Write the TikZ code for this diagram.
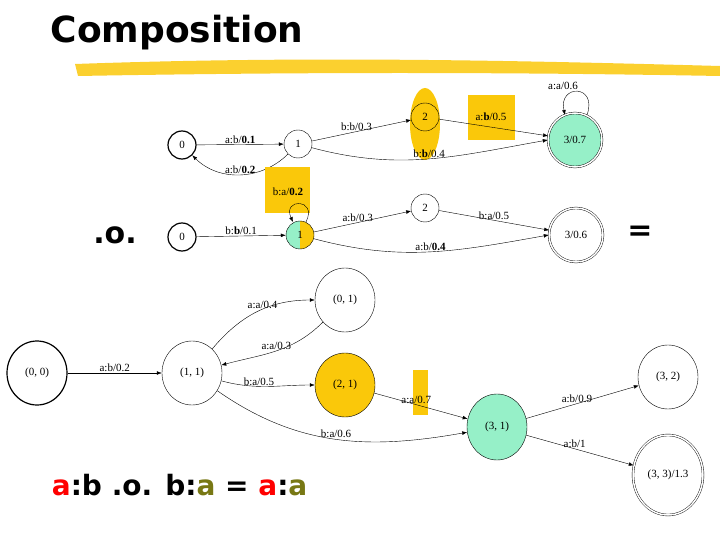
\documentclass[tikz,border=0pt]{standalone}
\usepackage{fontspec}
\setmainfont{Liberation Serif}
\setsansfont{DejaVu Sans}
\usetikzlibrary{arrows.meta,shapes.geometric}
\definecolor{gold}{RGB}{250,200,10}
\definecolor{mint}{RGB}{150,240,200}
\definecolor{olive}{RGB}{120,120,20}
\begin{document}
\begin{tikzpicture}[x=1pt,y=-1pt,
 st/.style={circle,draw,thin,minimum size=28pt,inner sep=0pt,font=\fontsize{11}{12}\selectfont},
 init/.style={st,very thick},
 fin/.style={st,double,double distance=1.5pt,minimum size=54pt},
 el/.style={ellipse,draw,thin,minimum width=60pt,minimum height=64pt,inner sep=0pt,font=\fontsize{11}{12}\selectfont},
 e/.style={-{Latex[length=5pt]},thin},
 lb/.style={font=\fontsize{11}{12}\selectfont,inner sep=1pt}]
\useasboundingbox (0,0) rectangle (720,540);
\node[font=\sffamily\bfseries,scale=3.6,anchor=west] (title) at (38,33) {Composition};
\fill[gold!85] (75,64) .. controls (300,56) and (500,60) .. (720,66) -- (720,76) .. controls (500,72) and (300,72) .. (78,76) -- cycle;
% FST 1
\fill[gold] (425,124) ellipse (15 and 36);
\fill[gold] (468,95) rectangle (515,140);
\node[init] (a0) at (182,145) {0};
\node[st] (a1) at (298,144) {1};
\node[st] (a2) at (425,117) {2};
\node[fin,fill=mint] (a3) at (575,140) {3/0.7};
\draw[e] (a0) -- node[lb,above] {a:b/\textbf{0.1}} (a1);
\draw[e] (a1) to[out=-135,in=-45] node[lb,above,pos=0.5] {a:b/\textbf{0.2}} (a0);
\draw[e] (a1) -- node[lb,above,pos=0.45] {b:b/0.3} (a2);
\draw[e] (a1) to[out=-15,in=190] node[lb,above,pos=0.5] {b:\textbf{b}/0.4} (a3.west);
\draw[e] (a2) -- (a3);
\node[lb] (l25) at (491,117) {a:\textbf{b}/0.5};
\draw[e] (587,115) .. controls (598,84) and (558,84) .. (565,115);
\node[lb] (l33) at (563,86) {a:a/0.6};
% FST 2
\fill[gold] (265,167) rectangle (310,213);
\fill[mint] (300,221) arc[start angle=-90,end angle=-270,radius=14] -- cycle;
\fill[gold] (300,221) arc[start angle=-90,end angle=90,radius=14] -- cycle;
\node[init] (b0) at (182,237) {0};
\node[st] (b1t) at (300,235) {1};
\node[st] (b2) at (425,208) {2};
\node[fin] (b3) at (576,235) {3/0.6};
\draw[e] (b0) -- node[lb,above] {b:\textbf{b}/0.1} (b1t);
\draw[e] (306,222) .. controls (318,198) and (282,198) .. (293,222);
\node[lb] (l11) at (288,192) {b:a/\textbf{0.2}};
\draw[e] (b1t) -- node[lb,above,pos=0.45] {a:b/0.3} (b2);
\draw[e] (b2) -- node[lb,above,pos=0.5] {b:a/0.5} (b3);
\draw[e] (b1t) to[out=-15,in=190] node[lb,above,pos=0.5] {a:b/\textbf{0.4}} (b3.west);
\node[font=\sffamily\bfseries,scale=3] (oo) at (115,235) {.o.};
\node[font=\sffamily\bfseries,scale=3] (eq) at (640,233) {=};
% result
\fill[gold] (413,370) rectangle (428,415);
\node[el,very thick] (c00) at (37,373) {(0, 0)};
\node[el] (c11) at (192,373) {(1, 1)};
\node[el] (c01) at (345,300) {(0, 1)};
\node[el,fill=gold] (c21) at (345,385) {(2, 1)};
\node[el,fill=mint,minimum height=66pt] (c31) at (497,427) {(3, 1)};
\node[el] (c32) at (668,377) {(3, 2)};
\node[el,double,double distance=1.5pt,minimum width=70pt,minimum height=80pt] (c33) at (668,475) {(3, 3)/1.3};
\draw[e] (c00) -- node[lb,above] {a:b/0.2} (c11);
\draw[e] (c11) to[out=50,in=180] node[lb,above,pos=0.55] {a:a/0.4} (c01);
\draw[e] (c01) to[out=-135,in=15] node[lb,above,pos=0.5] {a:a/0.3} (c11);
\draw[e] (c11) to[out=-15,in=180] node[lb,above,pos=0.4] {b:a/0.5} (c21);
\draw[e] (c21) -- node[lb,above,pos=0.45] {a:a/0.7} (c31);
\draw[e] (c11) to[out=-35,in=190] node[lb,above,pos=0.5] {b:a/0.6} (c31);
\draw[e] (c31) -- node[lb,above,pos=0.45] {a:b/0.9} (c32);
\draw[e] (c31) -- node[lb,above,pos=0.45] {a:b/1} (c33);
\node[font=\sffamily\bfseries,scale=2.8,anchor=west] (eqn) at (42,485) {\textcolor{red}{a}:b .o. b:\textcolor{olive}{a} = \textcolor{red}{a}:\textcolor{olive}{a}};
\end{tikzpicture}
\end{document}
